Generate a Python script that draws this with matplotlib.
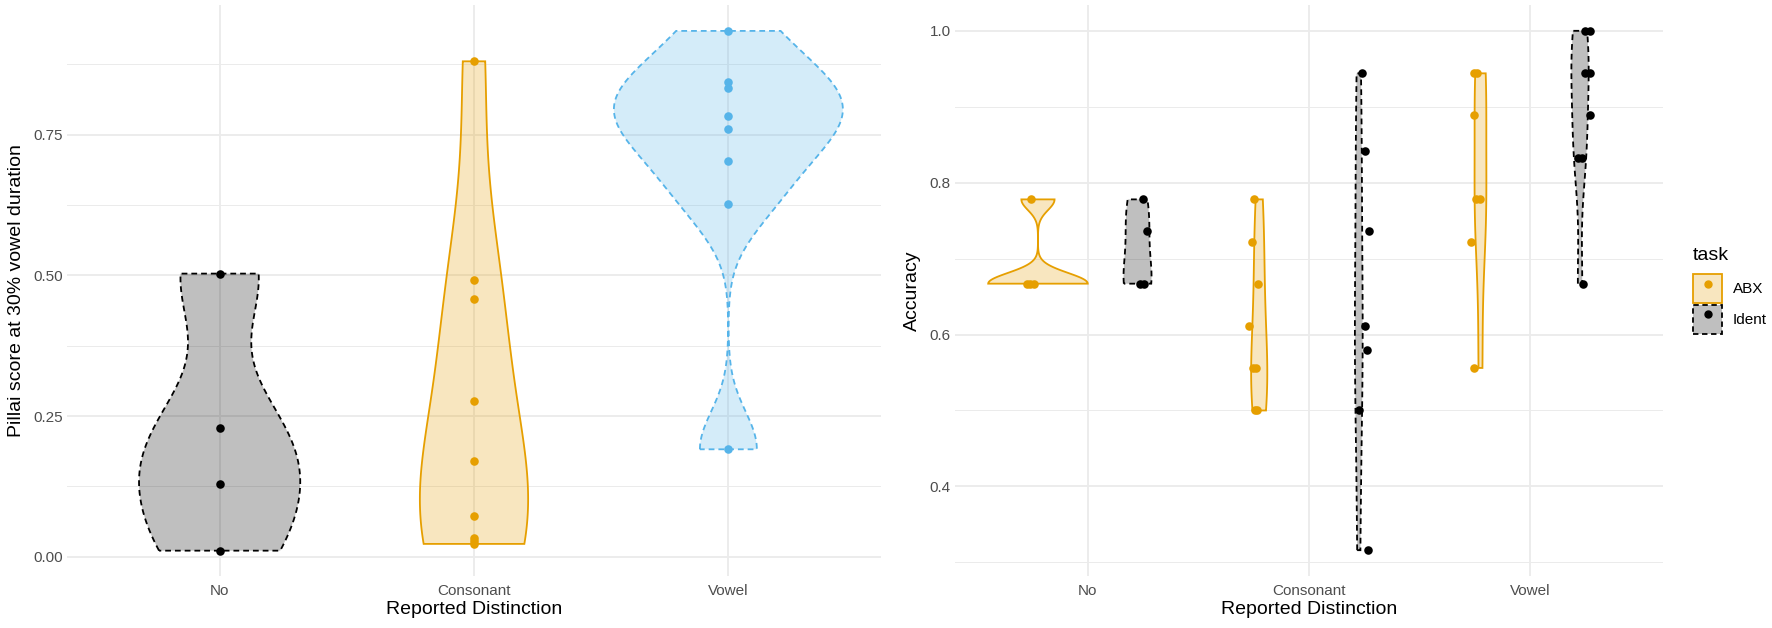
import numpy as np
import matplotlib
matplotlib.use("Agg")
import matplotlib.pyplot as plt
from matplotlib.patches import Polygon, Patch
from matplotlib.lines import Line2D
from matplotlib.legend_handler import HandlerTuple

plt.rcParams['font.family'] = ['Liberation Sans', 'DejaVu Sans']

# ---- data: left panel (Pillai score) ----
categories = ["No", "Consonant", "Vowel"]
pillai_no = [0.503, 0.228, 0.130, 0.011]
pillai_consonant = [0.880, 0.492, 0.458, 0.276, 0.171, 0.072, 0.034, 0.028, 0.023]
pillai_vowel = [0.934, 0.844, 0.832, 0.783, 0.759, 0.703, 0.626, 0.191]

# ---- data: right panel (Accuracy by task) ----
tasks = ["ABX", "Ident"]
acc_abx_no = [0.778, 0.667, 0.667, 0.667]
acc_abx_consonant = [0.778, 0.722, 0.667, 0.611, 0.556, 0.556, 0.500, 0.500]
acc_abx_vowel = [0.944, 0.944, 0.889, 0.778, 0.778, 0.722, 0.556]
acc_ident_no = [0.778, 0.737, 0.667, 0.667]
acc_ident_consonant = [0.944, 0.842, 0.737, 0.611, 0.579, 0.500, 0.316]
acc_ident_vowel = [1.000, 1.000, 0.944, 0.944, 0.889, 0.833, 0.833, 0.667]
# horizontal jitter of the points (category units)
jit_abx_no = [-0.030, -0.050, -0.017, -0.035]
jit_abx_consonant = [-0.023, -0.032, -0.004, -0.044, -0.028, -0.013, -0.017, -0.009]
jit_abx_vowel = [-0.031, -0.016, -0.031, -0.020, -0.001, -0.043, -0.028]
jit_ident_no = [0.023, 0.041, 0.012, 0.027]
jit_ident_consonant = [0.015, 0.027, 0.045, 0.030, 0.037, 0.003, 0.043]
jit_ident_vowel = [0.023, 0.046, 0.023, 0.046, 0.046, -0.008, 0.010, 0.013]

ORANGE = "#E69F00"
BLUE = "#56B4E9"
BLACK = "#000000"
GRID = "#EBEBEB"
TXT = "#4D4D4D"
DASH = (0, (3.2, 2.2))


def bw_nrd0(x):
    x = np.asarray(x, float)
    hi = np.std(x, ddof=1)
    q75, q25 = np.percentile(x, [75, 25])
    lo = min(hi, (q75 - q25) / 1.34)
    if not lo:
        lo = hi or abs(x[0]) or 1.0
    return 0.9 * lo * len(x) ** -0.2


def kde(x):
    x = np.asarray(x, float)
    bw = bw_nrd0(x)
    grid = np.linspace(x.min(), x.max(), 512)
    d = np.exp(-0.5 * ((grid[:, None] - x[None, :]) / bw) ** 2).sum(1)
    d /= len(x) * bw * np.sqrt(2 * np.pi)
    return grid, d


def draw_violin(ax, xc, grid, halfw, color, fill_alpha, ls):
    xs = np.concatenate([xc - halfw, (xc + halfw)[::-1]])
    ys = np.concatenate([grid, grid[::-1]])
    pts = np.column_stack([xs, ys])
    ax.add_patch(Polygon(pts, closed=True, facecolor=color, alpha=fill_alpha,
                         edgecolor="none", zorder=2))
    ax.add_patch(Polygon(pts, closed=True, facecolor="none", edgecolor=color,
                         linewidth=1.3, linestyle=ls, zorder=3))


def style_axes(ax, majors, minors, ylim):
    ax.set_xlim(0.4, 3.6)
    ax.set_ylim(*ylim)
    ax.set_xticks([1, 2, 3])
    ax.set_xticklabels(categories)
    ax.set_yticks(majors)
    ax.set_yticks(minors, minor=True)
    for s in ax.spines.values():
        s.set_visible(False)
    ax.tick_params(axis="both", which="both", length=0, labelsize=11, colors=TXT, pad=3)
    ax.tick_params(axis="x", pad=6)
    ax.grid(True, which="major", color=GRID, linewidth=1.3, zorder=0)
    ax.grid(True, which="minor", axis="y", color=GRID, linewidth=0.7, zorder=0)
    ax.set_axisbelow(True)
    ax.set_xlabel("Reported Distinction", fontsize=14, color="black", labelpad=2)


fig = plt.figure(figsize=(17.72, 6.28), dpi=100)
W, H = 1772.0, 628.0
ax1 = fig.add_axes([67 / W, (H - 576) / H, 814 / W, 571 / H])
ax2 = fig.add_axes([955 / W, (H - 576) / H, 708 / W, 571 / H])

# ---- left panel ----
left_groups = [pillai_no, pillai_consonant, pillai_vowel]
left_styles = [(BLACK, DASH), (ORANGE, "-"), (BLUE, DASH)]
dens = [kde(g) for g in left_groups]
dmax = max(d.max() for _, d in dens)
for i, (vals, (grid, d), (col, ls)) in enumerate(zip(left_groups, dens, left_styles)):
    xc = i + 1
    draw_violin(ax1, xc, grid, d / dmax * 0.45, col, 0.25, ls)
    ax1.scatter(np.full(len(vals), xc), vals, s=38, color=col, zorder=4, linewidths=0)

style_axes(ax1, [0, 0.25, 0.5, 0.75], [0.125, 0.375, 0.625, 0.875], (-0.034, 0.980))
ax1.set_yticklabels(["0.00", "0.25", "0.50", "0.75"])
ax1.set_ylabel("Pillai score at 30% vowel duration", fontsize=14, color="black", labelpad=6)

# ---- right panel ----
abx = [acc_abx_no, acc_abx_consonant, acc_abx_vowel]
ident = [acc_ident_no, acc_ident_consonant, acc_ident_vowel]
jabx = [jit_abx_no, jit_abx_consonant, jit_abx_vowel]
jident = [jit_ident_no, jit_ident_consonant, jit_ident_vowel]
all_groups = []
for i in range(3):
    all_groups.append((i + 1 - 0.225, abx[i], jabx[i], ORANGE, "-"))
    all_groups.append((i + 1 + 0.225, ident[i], jident[i], BLACK, DASH))
dens2 = [kde(g[1]) for g in all_groups]
dmax2 = max(d.max() for _, d in dens2)
for (xc, vals, jit, col, ls), (grid, d) in zip(all_groups, dens2):
    draw_violin(ax2, xc, grid, d / dmax2 * 0.225, col, 0.25, ls)
    ax2.scatter(xc + np.array(jit), vals, s=38, color=col, zorder=4, linewidths=0)

style_axes(ax2, [0.4, 0.6, 0.8, 1.0], [0.3, 0.5, 0.7, 0.9], (0.282, 1.034))
ax2.set_yticklabels(["0.4", "0.6", "0.8", "1.0"])
ax2.set_ylabel("Accuracy", fontsize=14, color="black", labelpad=6)

# ---- legend ----
fig.text(1693 / W, 1 - 256 / H, "task", fontsize=14, ha="left", va="center")
h_abx = (Patch(facecolor=(0.902, 0.624, 0.0, 0.25), edgecolor=ORANGE, linewidth=1.3),
         Line2D([], [], marker="o", color=ORANGE, linestyle="none", markersize=5))
h_ident = (Patch(facecolor=(0, 0, 0, 0.25), edgecolor=BLACK, linewidth=1.3, linestyle=(0, (3, 2))),
           Line2D([], [], marker="o", color=BLACK, linestyle="none", markersize=5))
leg = fig.legend([h_abx, h_ident], tasks,
                 handler_map={tuple: HandlerTuple(ndivide=1)},
                 loc="upper left", bbox_to_anchor=(1690 / W, 1 - 271 / H),
                 frameon=False, fontsize=11,
                 handlelength=1.9, handleheight=2.55, labelspacing=0.1,
                 handletextpad=0.7, borderpad=0.2, borderaxespad=0)

fig.savefig("out.png", dpi=100, facecolor="white")
